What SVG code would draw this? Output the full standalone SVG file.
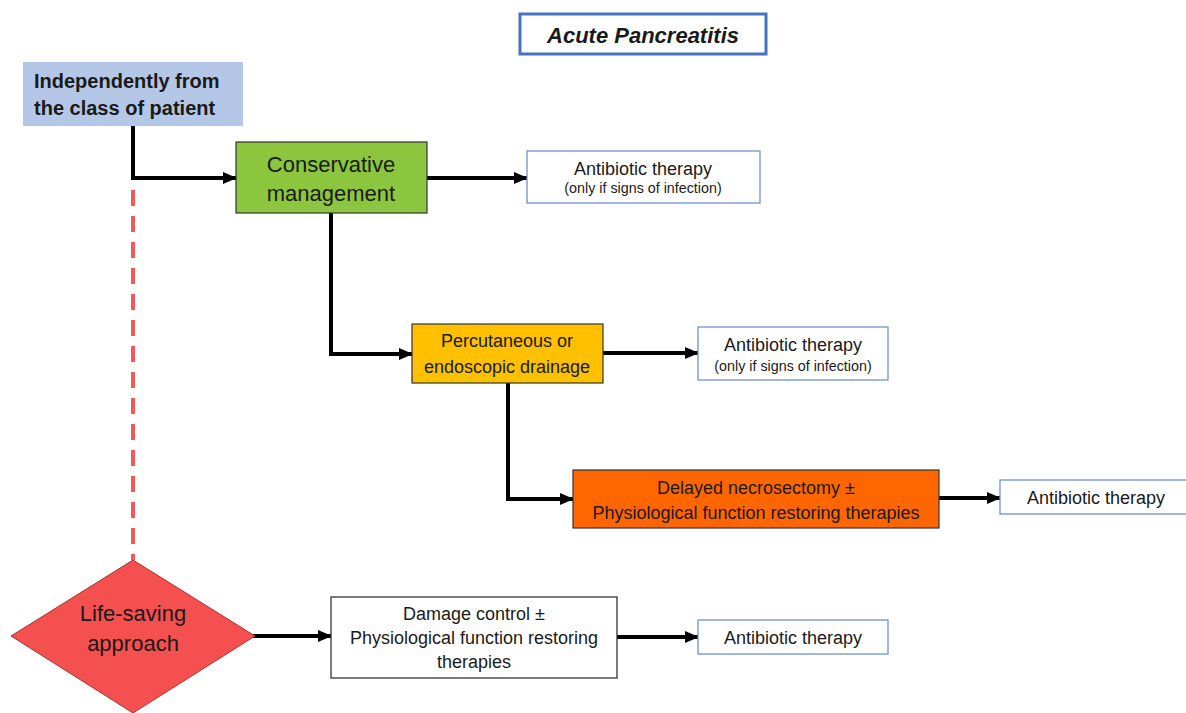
<svg xmlns="http://www.w3.org/2000/svg" width="1186" height="713" viewBox="0 0 1186 713">
<style>
text{font-family:"Liberation Sans",Arial,sans-serif;fill:#1a1a1a;text-anchor:middle}
.conn{fill:none;stroke:#000;stroke-width:4;marker-end:url(#arr)}
.ab{fill:#fff;stroke:#6f8fcf;stroke-width:1.3}
.t16{font-size:18px}
.t12{font-size:14.3px}
.big{font-size:22px}
</style>
<defs>
<marker id="arr" markerUnits="userSpaceOnUse" markerWidth="14" markerHeight="12" refX="13" refY="6" orient="auto">
<path d="M0,0 L14,6 L0,12 Z" fill="#000"/>
</marker>
</defs>
<rect width="1186" height="713" fill="#fff"/>

<g id="connectors">
<line x1="133" y1="190" x2="133" y2="560" stroke="#f25a5a" stroke-width="4" stroke-dasharray="16,10"/>
<path class="conn" d="M133,126 V178 H236"/>
<path class="conn" d="M427,178 H527"/>
<path class="conn" d="M331,213 V354 H412"/>
<path class="conn" d="M603,353 H698"/>
<path class="conn" d="M508,383 V499 H573"/>
<path class="conn" d="M939,498 H1000"/>
<path class="conn" d="M253,636 H331"/>
<path class="conn" d="M617,637 H698"/>
</g>

<g id="title">
<rect x="520" y="14" width="246" height="40" fill="#fff" stroke="#4472c4" stroke-width="3"/>
<text x="643" y="43" style="font-size:22px;font-weight:bold;font-style:italic">Acute Pancreatitis</text>
</g>

<g id="independently">
<rect x="23" y="62" width="220" height="64" fill="#b4c7e7"/>
<text x="34" y="88" style="font-size:20px;font-weight:bold;text-anchor:start">Independently from</text>
<text x="34" y="115" style="font-size:20px;font-weight:bold;text-anchor:start">the class of patient</text>
</g>

<g id="conservative">
<rect x="236" y="142" width="191" height="71" fill="#8cc63f" stroke="#333" stroke-width="1.2"/>
<text class="big" x="331" y="172">Conservative</text>
<text class="big" x="331" y="201">management</text>
</g>

<g id="antibiotic1">
<rect class="ab" x="527" y="151" width="233" height="52"/>
<text class="t16" x="643" y="175">Antibiotic therapy</text>
<text class="t12" x="643" y="193">(only if signs of infection)</text>
</g>

<g id="drainage">
<rect x="412" y="324" width="191" height="59" fill="#ffc000" stroke="#333" stroke-width="1.2"/>
<text class="t16" x="507" y="347">Percutaneous or</text>
<text class="t16" x="507" y="373">endoscopic drainage</text>
</g>

<g id="antibiotic2">
<rect class="ab" x="698" y="327" width="190" height="53"/>
<text class="t16" x="793" y="351">Antibiotic therapy</text>
<text class="t12" x="793" y="371">(only if signs of infection)</text>
</g>

<g id="necrosectomy">
<rect x="573" y="470" width="366" height="58" fill="#ff6600" stroke="#333" stroke-width="1.2"/>
<text class="t16" x="756" y="494">Delayed necrosectomy ±</text>
<text class="t16" x="756" y="519">Physiological function restoring therapies</text>
</g>

<g id="antibiotic3">
<rect class="ab" x="1000" y="480" width="190" height="34"/>
<text class="t16" x="1096" y="504">Antibiotic therapy</text>
</g>

<g id="lifesaving">
<polygon points="133,560 255,636 133,713 11,636" fill="#f55050" stroke="#a33" stroke-width="1"/>
<text class="big" x="133" y="621">Life-saving</text>
<text class="big" x="133" y="651">approach</text>
</g>

<g id="damagecontrol">
<rect x="331" y="597" width="286" height="81" fill="#fff" stroke="#333" stroke-width="1.3"/>
<text class="t16" x="474" y="620">Damage control ±</text>
<text class="t16" x="474" y="644">Physiological function restoring</text>
<text class="t16" x="474" y="668">therapies</text>
</g>

<g id="antibiotic4">
<rect class="ab" x="698" y="620" width="190" height="34"/>
<text class="t16" x="793" y="644">Antibiotic therapy</text>
</g>
</svg>
